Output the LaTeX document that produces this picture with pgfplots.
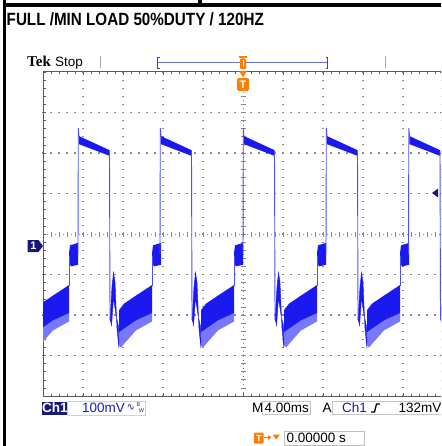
\documentclass[border=0pt]{standalone}
\usepackage{pgfplots}
\pgfplotsset{compat=1.18}
\usepackage{pgfplotstable}
\usepackage{fontspec}
\setmainfont{Liberation Sans}
\newfontfamily\tekserif{Liberation Serif}
\newfontfamily\dejavu{DejaVu Sans}

\definecolor{trace}{RGB}{25,25,240}
\definecolor{traceedge}{RGB}{80,80,250}
\definecolor{traceband}{RGB}{120,120,250}
\definecolor{navy}{RGB}{24,24,120}
\definecolor{labelblue}{RGB}{30,30,160}
\definecolor{tekorange}{RGB}{255,125,0}
\definecolor{gridgray}{RGB}{135,135,135}
\definecolor{bargray}{RGB}{110,110,215}

% one switching period, t in ms after the rising edge, v in mV from screen centre
\pgfplotstableread{
t v
0.08 242
3.15 207
3.15 193
0.08 222
}\highband

\pgfplotstableread{
t v
4.1 -188
4.6 -172
5.8 -152
7.4 -126
7.4 -195
5.8 -213
4.1 -242
}\rampband

\pgfplotstableread{
t v
4.1 -236
5.8 -210
7.4 -192
7.4 -216
5.8 -238
4.3 -280
4.1 -275
}\ramptail

\pgfplotstableread{
t v
7.4 -48
7.5 -28
8.3 -22
8.3 -76
7.6 -80
7.4 -72
}\preblock

\pgfplotstableread{
t v
3.2 -212
3.4 -130
3.55 -95
3.7 -118
3.9 -235
4.1 -282
4.05 -228
3.8 -200
3.55 -158
3.35 -228
}\bump

\pgfplotstableread{
t v
0.0 -50
0.03 262
0.1 240
}\riseedge

\pgfplotstableread{
t v
3.15 205
3.2 -212
}\falledge

\pgfplotstableread{
t v
7.4 -128
7.4 -55
}\jumpedge

\begin{document}
\begin{tikzpicture}[x=1pt,y=1pt]
\useasboundingbox (0,0) rectangle (441,-446);
\clip (0,0) rectangle (441,-446);

% outer frame of the capture
\fill[black] (2.7,0) rectangle (6.3,-446);
\fill[black] (2.7,-3.2) rectangle (441,-6.8);
\fill[black] (198.3,0) rectangle (201.7,-5);

\node[anchor=base west, inner sep=0] at (6.5,-25.3)
  {\scalebox{0.86}[1]{\fontsize{17.7}{20}\selectfont\bfseries FULL /MIN LOAD 50\%DUTY / 120HZ}};

% header of the scope screen
\node[anchor=base west, inner sep=0] at (27,-66.5) {\tekserif\bfseries\fontsize{15}{16}\selectfont Tek};
\node[anchor=base west, inner sep=0] at (55,-66.5) {\fontsize{13.5}{15}\selectfont Stop};
\draw[gray!70, line width=0.8pt] (100,-56) -- (100,-68);
\draw[gray!70, line width=0.8pt] (385,-56) -- (385,-68);
\draw[bargray, line width=1.1pt] (157,-62.5) -- (328,-62.5);
\draw[gray!60!black, line width=0.8pt] (159.5,-57) -- (157.5,-57) -- (157.5,-68) -- (159.5,-68);
\draw[gray!60!black, line width=0.8pt] (325.5,-57) -- (327.5,-57) -- (327.5,-68) -- (325.5,-68);
\fill[tekorange] (239,-56) rectangle (247,-58);
\fill[tekorange, rounded corners=1.2pt] (240,-58.5) rectangle (246,-69);
\draw[white, line width=0.8pt] (243,-60) -- (243,-67);

% dotted graticule
\foreach \k in {1,2,3,4,6,7,8,9}
  \foreach \j in {0,...,40}
    \fill[gridgray] ({43+40*\k-0.55},{-72-8.1*\j-0.55}) rectangle ++(1.1,1.1);
\foreach \k in {1,2,3,5,6,7}
  \foreach \j in {0,...,50}
    \fill[gridgray] ({43+8*\j-0.55},{-72-40.5*\k-0.55}) rectangle ++(1.1,1.1);
\draw[gridgray, line width=0.9pt, dash pattern=on 0.9pt off 3.1pt] (43,-234) -- (443,-234);
\foreach \j in {0,...,50}
  \draw[gridgray, line width=0.8pt] ({43+8*\j},-231.5) -- ({43+8*\j},-236.5);
\draw[gridgray, line width=0.9pt, dash pattern=on 0.9pt off 3.15pt] (243,-72) -- (243,-396);
\foreach \j in {0,...,40}
  \draw[gridgray, line width=0.8pt] (240.5,{-72-8.1*\j}) -- (245.5,{-72-8.1*\j});

\begin{axis}[
  at={(43pt,-396pt)}, anchor=south west,
  width=400pt, height=324pt, scale only axis,
  xmin=-20, xmax=20, ymin=-400, ymax=400,
  xtick={-20,-16,...,20}, ytick={-400,-300,...,400},
  minor x tick num=4, minor y tick num=4,
  xticklabels={}, yticklabels={},
  tick align=inside,
  major tick length=3pt, minor tick length=2.5pt,
  tick style={gray!70!black, line width=0.6pt},
  axis line style={gray!70!black, line width=1pt},
]
\pgfplotsinvokeforeach{-24.8,-16.5,-8.3,0,8.3,16.55}{
  \addplot[fill=traceband, draw=none, forget plot] table[x expr=\thisrow{t}+#1, y=v] {\ramptail};
  \addplot[fill=trace, draw=none, forget plot] table[x expr=\thisrow{t}+#1, y=v] {\rampband};
  \addplot[fill=trace, draw=none, forget plot] table[x expr=\thisrow{t}+#1, y=v] {\highband};
  \addplot[fill=trace, draw=none, forget plot] table[x expr=\thisrow{t}+#1, y=v] {\preblock};
  \addplot[fill=trace, draw=trace, line width=0.4pt, forget plot] table[x expr=\thisrow{t}+#1, y=v] {\bump};
  \addplot[traceedge, line width=0.9pt, forget plot] table[x expr=\thisrow{t}+#1, y=v] {\riseedge};
  \addplot[traceedge, line width=0.9pt, forget plot] table[x expr=\thisrow{t}+#1, y=v] {\falledge};
  \addplot[traceedge, line width=0.9pt, forget plot] table[x expr=\thisrow{t}+#1, y=v] {\jumpedge};
}
\end{axis}

% trigger position and level markers
\fill[tekorange] (239,-71) -- (247,-71) -- (243,-77) -- cycle;
\fill[tekorange, rounded corners=1.5pt] (237,-78) rectangle (249,-91);
\node[white, inner sep=0, font=\bfseries\fontsize{11}{11}\selectfont] at (243,-84.5) {T};
\fill[navy] (432,-193) -- (438,-188.5) -- (438,-197.5) -- cycle;
\fill[navy] (27.5,-240) -- (38.5,-240) -- (43,-246) -- (38.5,-252) -- (27.5,-252) -- cycle;
\node[white, inner sep=0, font=\bfseries\fontsize{11}{11}\selectfont] at (33.5,-246) {1};

% readout line
\fill[navy] (42,-401.5) rectangle (67.5,-415);
\node[white, anchor=base, inner sep=0, font=\bfseries\fontsize{13.5}{14}\selectfont] at (54.8,-412.5) {Ch1};
\draw[gray!35, line width=0.8pt] (67.5,-401.5) rectangle (145.5,-415);
\node[labelblue, anchor=base west, inner sep=0, font=\fontsize{13.5}{14}\selectfont] at (82,-412.5) {100mV};
\node[labelblue, anchor=base west, inner sep=0, font=\dejavu\fontsize{10}{10}\selectfont] at (126.5,-410) {∿};
\node[labelblue, inner sep=0, font=\fontsize{5.5}{6}\selectfont] at (138.5,-405) {B};
\node[labelblue, inner sep=0, font=\fontsize{5.5}{6}\selectfont] at (141.5,-410.5) {W};

\node[anchor=base west, inner sep=0, font=\fontsize{13.5}{14}\selectfont] at (252,-412.5) {M};
\draw[gray!45, line width=0.8pt] (262.5,-401) rectangle (310,-414.5);
\node[anchor=base west, inner sep=0, font=\fontsize{13.5}{14}\selectfont] at (264.5,-412.5) {4.00ms};
\node[anchor=base west, inner sep=0, font=\fontsize{13.5}{14}\selectfont] at (322.5,-412.5) {A};
\draw[gray!45, line width=0.8pt] (332,-401) rectangle (450,-414.5);
\node[labelblue, anchor=base west, inner sep=0, font=\fontsize{13.5}{14}\selectfont] at (342,-412.5) {Ch1};
\draw[black, line width=1.3pt] (371,-412) -- (374.5,-412) -- (376.5,-404) -- (380,-404);
\node[anchor=base west, inner sep=0, font=\fontsize{13.5}{14}\selectfont] at (398.5,-412.5) {132mV};

% trigger time readout
\fill[tekorange, rounded corners=1pt] (254,-432.5) rectangle (263.5,-443.5);
\node[white, inner sep=0, font=\bfseries\fontsize{9}{9}\selectfont] at (258.75,-438) {T};
\draw[tekorange, line width=1pt] (263.5,-437.5) -- (268.5,-437.5);
\fill[tekorange] (268,-435) -- (271.5,-437.5) -- (268,-440) -- cycle;
\fill[tekorange] (272.5,-434.5) -- (280,-434.5) -- (276.25,-439.5) -- cycle;
\draw[gray!50, line width=0.8pt] (284,-431.5) rectangle (364,-445);
\node[anchor=base west, inner sep=0, font=\fontsize{13.5}{14}\selectfont] at (286.5,-442.5) {0.00000 s};
\end{tikzpicture}
\end{document}
